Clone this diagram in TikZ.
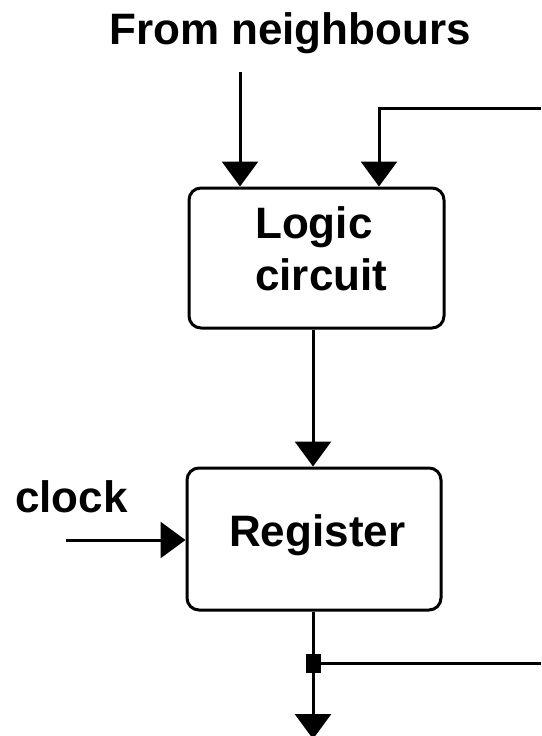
\documentclass[tikz,border=0pt]{standalone}
\usepackage{fontspec}
\setmainfont{Liberation Sans}
\usetikzlibrary{arrows.meta}
\begin{document}
\begin{tikzpicture}[x=1pt,y=-1pt,
  lbl/.style={font=\fontsize{44}{52}\selectfont\bfseries, inner sep=0pt, anchor=base west},
  block/.style={draw, line width=3pt, rounded corners=12pt, inner sep=0pt},
  wire/.style={line width=3pt},
  sig/.style={wire, -{Triangle[width=36pt,length=25pt]}},
  dot/.style={fill, rectangle, minimum width=15pt, minimum height=19pt, inner sep=0pt}]
  \clip (0,0) rectangle (541,736);

  % blocks
  \node[block, minimum width=255pt, minimum height=140pt] (logic) at (316.5,258) {};
  \node[block, minimum width=254pt, minimum height=142pt] (reg) at (314,539) {};

  % texts
  \node[lbl] (logictxt) at (255,238) {Logic};
  \node[lbl] (circtxt) at (255,290) {circuit};
  \node[lbl] (regtxt) at (229,546) {Register};
  \node[lbl] (title) at (109,44) {From neighbours};
  \node[lbl] (clklbl) at (15,512) {clock};

  % helper points
  \coordinate (nb) at (240,72);
  \coordinate (fbin) at (541,108);
  \coordinate (fbx) at (379,0);
  \coordinate (bus) at (313,0);
  \coordinate (clk) at (66,540);
  \coordinate (out) at (313,739);
  \coordinate (fbout) at (541,663);
  \node[dot] (junc) at (313,663) {};

  % inputs to the logic circuit
  \draw[sig] (nb) -- (nb |- logic.north);
  \draw[sig] (fbin) -| (fbx |- logic.north);

  % logic circuit to register
  \draw[sig] (bus |- logic.south) -- (bus |- reg.north);

  % clock input
  \draw[sig] (clk) -- (clk -| reg.west);

  % register output and feedback branch
  \draw[sig] (bus |- reg.south) -- (out);
  \draw[wire] (junc) -- (fbout);
\end{tikzpicture}
\end{document}
